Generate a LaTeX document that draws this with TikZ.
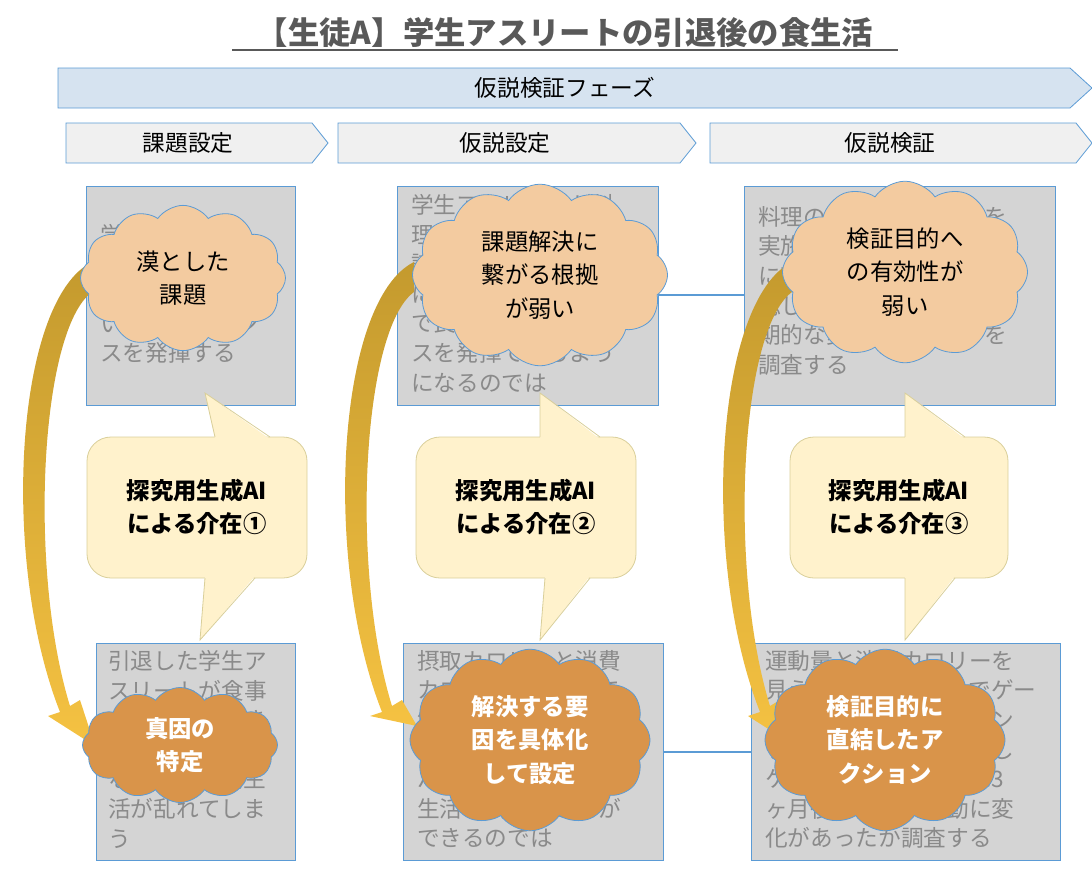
\documentclass[tikz,border=0pt]{standalone}
\usepackage{fontspec}
\setmainfont{Noto Sans CJK JP}
\usetikzlibrary{shapes.symbols}
\definecolor{bblue}{HTML}{5B9BD5}
\definecolor{bandfill}{HTML}{D6E3F0}
\definecolor{boxfill}{HTML}{D4D4D4}
\definecolor{boxtext}{HTML}{8A8A8A}
\definecolor{callfill}{HTML}{FFF2CC}
\definecolor{callline}{HTML}{D9CF9A}
\definecolor{lightor}{HTML}{F3CBA0}
\definecolor{darkor}{HTML}{D9944A}
\definecolor{gold}{HTML}{C49A2E}
\definecolor{yel}{HTML}{F5C242}
\begin{document}
\begin{tikzpicture}[x=0.75pt,y=-0.75pt,
  band/.style={draw=bblue,fill=bandfill,line width=0.6pt},
  chev/.style={draw=bblue,fill=gray!12,line width=0.6pt},
  gbox/.style={draw=bblue,fill=boxfill,line width=0.6pt},
  btext/.style={anchor=north west,align=left,text=boxtext,inner sep=0pt,font=\fontsize{17pt}{22.2pt}\selectfont},
  call/.style={draw=callline,fill=callfill,rounded corners=18pt,line width=0.6pt},
  calltext/.style={font=\bfseries\fontsize{17.5pt}{25pt}\selectfont,align=center},
  cl/.style={cloud,cloud puffs=12,cloud puff arc=110,draw=bblue,line width=0.6pt,align=center,inner sep=0pt},
  cltop/.style={cl,fill=lightor,font=\fontsize{17.5pt}{25pt}\selectfont},
  clbot/.style={cl,fill=darkor,text=white,font=\bfseries\fontsize{17.5pt}{25pt}\selectfont},
  conn/.style={draw=bblue,line width=0.8pt}]
\useasboundingbox (0,0) rectangle (1092,886);
% title
\node[font=\bfseries\fontsize{23.5pt}{26pt}\selectfont,text=black!65] (title) at (565,33) {【生徒A】学生アスリートの引退後の食生活};
\draw[black!65,line width=1.2pt] (232,50) -- (898,50);
% band
\draw[band] (58,68) -- (1070,68) -- (1092,88) -- (1070,108) -- (58,108) -- cycle;
\node[font=\fontsize{17pt}{20pt}\selectfont] (band) at (565,88) {仮説検証フェーズ};
\draw[chev] (66,123) -- (312,123) -- (328,143) -- (312,163) -- (66,163) -- cycle;
\draw[chev] (338,123) -- (680,123) -- (696,143) -- (680,163) -- (338,163) -- cycle;
\draw[chev] (710,123) -- (1076,123) -- (1092,143) -- (1076,163) -- (710,163) -- cycle;
\node[font=\fontsize{17pt}{20pt}\selectfont] (c1) at (188,143) {課題設定};
\node[font=\fontsize{17pt}{20pt}\selectfont] (c2) at (505,143) {仮説設定};
\node[font=\fontsize{17pt}{20pt}\selectfont] (c3) at (890,143) {仮説検証};
% connectors between boxes
\coordinate (l1a) at (658,295); \coordinate (l1b) at (744,295);
\draw[conn] (l1a) -- (l1b);
\coordinate (l2a) at (663,752); \coordinate (l2b) at (751,752);
\draw[conn] (l2a) -- (l2b);
% top boxes
\draw[gbox] (86,186) rectangle (295,405);
\draw[gbox] (397,186) rectangle (658,405);
\draw[gbox] (744,186) rectangle (1055,405);
\node[btext] (t1) at (100,224) {学生アスリート\\が食事を通して\\高い運動能力で\\いパフォーマン\\スを発揮する};
\node[btext] (t2) at (411,194) {学生アスリートが料\\理を通して栄養の知\\識を身につけ、試合\\に向けて万全の状態\\で良いパフォーマン\\スを発揮できるよう\\になるのでは};
\node[btext] (t3) at (758,206) {料理の講習会と試食会を\\実施し、食生活の前後\\に変化が見られるか確\\認し、その後さらに長\\期的な変化があるのかを\\調査する};
% bottom boxes
\draw[gbox] (96,643) rectangle (295,860);
\draw[gbox] (403,643) rectangle (663,860);
\draw[gbox] (751,643) rectangle (1060,860);
\node[btext] (b1) at (108,650) {引退した学生ア\\スリートが食事\\の量を調整でき\\ず、運動量も減\\なくなり、食生\\活が乱れてしま\\う};
\node[btext] (b2) at (417,650) {摂取カロリーと消費\\カロリーを意識して\\解消する力を養い、\\運動と食事の量の\\バランスのとれた食\\生活を続けることが\\できるのでは};
\node[btext] (b3) at (765,650) {運動量と消費カロリーを\\見える化したアプリでゲー\\ム感覚で記録させ、アン\\ケートの実施、記録をし\\ケートを実施、さらに3\\ヶ月後に食事や運動に変\\化があったか調査する};
% callouts
\foreach \xa/\xb/\ua/\ub/\ut/\da/\db/\dt/\nm/\txt in {
  87/307/215/270/205/205/255/200/1/①,
  416/636/540/600/540/545/590/540/2/②,
  790/1008/905/965/905/905/955/905/3/③}{
  \draw[call] (\xa,437) rectangle (\xb,578);
  \fill[callfill] (\ua,439) -- (\ut,393) -- (\ub,439) -- cycle;
  \draw[callline,line width=0.6pt] (\ua,437) -- (\ut,393) -- (\ub,437);
  \fill[callfill] (\da,576) -- (\dt,640) -- (\db,576) -- cycle;
  \draw[callline,line width=0.6pt] (\da,578) -- (\dt,640) -- (\db,578);
  \node[calltext] (k\nm) at ({(\xa+\xb)/2},507) {探究用生成AI\\による介在\txt};
}
% curved arrows
\foreach \dx/\ey in {0/0, 322/-20, 700/0}{
  \begin{scope}[xshift=\dx*0.75pt]
  \shade[top color=gold,bottom color=yel]
   (92,262) .. controls (15,300) and (0,560) .. (60,712)
   -- (48,716) -- (95,746+\ey) -- (80,700) -- (70,706)
   .. controls (28,570) and (40,330) .. (92,292) -- cycle;
  \end{scope}
}
% clouds
\node[cltop,minimum width=205pt*0.75,minimum height=115pt*0.75] (k1top) at (183,278) {漠とした\\課題};
\node[cltop,minimum width=255pt*0.75,minimum height=125pt*0.75] (k2top) at (540,275) {課題解決に\\繋がる根拠\\が弱い};
\node[cltop,minimum width=245pt*0.75,minimum height=115pt*0.75] (k3top) at (905,272) {検証目的へ\\の有効性が\\弱い};
\node[clbot,minimum width=195pt*0.75,minimum height=115pt*0.75] (k1bot) at (180,745) {真因の\\特定};
\node[clbot,minimum width=240pt*0.75,minimum height=135pt*0.75] (k2bot) at (530,740) {解決する要\\因を具体化\\して設定};
\node[clbot,minimum width=240pt*0.75,minimum height=135pt*0.75] (k3bot) at (885,740) {検証目的に\\直結したア\\クション};
\end{tikzpicture}
\end{document}
